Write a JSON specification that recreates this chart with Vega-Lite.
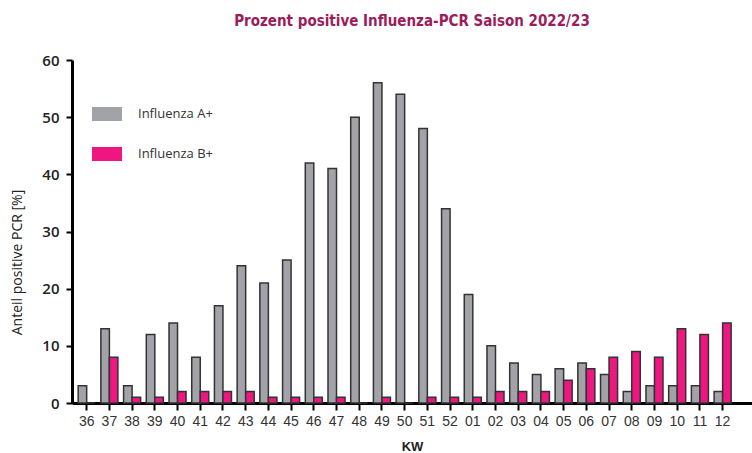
{
  "$schema": "https://vega.github.io/schema/vega-lite/v6.json",
  "autosize": {"type": "none"},
  "padding": {"left": 72, "top": 60, "right": 0, "bottom": 50},
  "width": 680,
  "height": 343,
  "background": "white",
  "title": {
    "text": "Prozent positive Influenza-PCR Saison 2022/23",
    "font": "Liberation Sans Narrow, DejaVu Sans Condensed, sans-serif",
    "fontSize": 15,
    "fontWeight": "bold",
    "color": "#9c1c5c",
    "anchor": "middle",
    "offset": 24
  },
  "data": {
    "values": [
      {"KW": "36", "Typ": "Influenza A+", "Anteil": 3},
      {"KW": "36", "Typ": "Influenza B+", "Anteil": 0},
      {"KW": "37", "Typ": "Influenza A+", "Anteil": 13},
      {"KW": "37", "Typ": "Influenza B+", "Anteil": 8},
      {"KW": "38", "Typ": "Influenza A+", "Anteil": 3},
      {"KW": "38", "Typ": "Influenza B+", "Anteil": 1},
      {"KW": "39", "Typ": "Influenza A+", "Anteil": 12},
      {"KW": "39", "Typ": "Influenza B+", "Anteil": 1},
      {"KW": "40", "Typ": "Influenza A+", "Anteil": 14},
      {"KW": "40", "Typ": "Influenza B+", "Anteil": 2},
      {"KW": "41", "Typ": "Influenza A+", "Anteil": 8},
      {"KW": "41", "Typ": "Influenza B+", "Anteil": 2},
      {"KW": "42", "Typ": "Influenza A+", "Anteil": 17},
      {"KW": "42", "Typ": "Influenza B+", "Anteil": 2},
      {"KW": "43", "Typ": "Influenza A+", "Anteil": 24},
      {"KW": "43", "Typ": "Influenza B+", "Anteil": 2},
      {"KW": "44", "Typ": "Influenza A+", "Anteil": 21},
      {"KW": "44", "Typ": "Influenza B+", "Anteil": 1},
      {"KW": "45", "Typ": "Influenza A+", "Anteil": 25},
      {"KW": "45", "Typ": "Influenza B+", "Anteil": 1},
      {"KW": "46", "Typ": "Influenza A+", "Anteil": 42},
      {"KW": "46", "Typ": "Influenza B+", "Anteil": 1},
      {"KW": "47", "Typ": "Influenza A+", "Anteil": 41},
      {"KW": "47", "Typ": "Influenza B+", "Anteil": 1},
      {"KW": "48", "Typ": "Influenza A+", "Anteil": 50},
      {"KW": "48", "Typ": "Influenza B+", "Anteil": 0},
      {"KW": "49", "Typ": "Influenza A+", "Anteil": 56},
      {"KW": "49", "Typ": "Influenza B+", "Anteil": 1},
      {"KW": "50", "Typ": "Influenza A+", "Anteil": 54},
      {"KW": "50", "Typ": "Influenza B+", "Anteil": 0},
      {"KW": "51", "Typ": "Influenza A+", "Anteil": 48},
      {"KW": "51", "Typ": "Influenza B+", "Anteil": 1},
      {"KW": "52", "Typ": "Influenza A+", "Anteil": 34},
      {"KW": "52", "Typ": "Influenza B+", "Anteil": 1},
      {"KW": "01", "Typ": "Influenza A+", "Anteil": 19},
      {"KW": "01", "Typ": "Influenza B+", "Anteil": 1},
      {"KW": "02", "Typ": "Influenza A+", "Anteil": 10},
      {"KW": "02", "Typ": "Influenza B+", "Anteil": 2},
      {"KW": "03", "Typ": "Influenza A+", "Anteil": 7},
      {"KW": "03", "Typ": "Influenza B+", "Anteil": 2},
      {"KW": "04", "Typ": "Influenza A+", "Anteil": 5},
      {"KW": "04", "Typ": "Influenza B+", "Anteil": 2},
      {"KW": "05", "Typ": "Influenza A+", "Anteil": 6},
      {"KW": "05", "Typ": "Influenza B+", "Anteil": 4},
      {"KW": "06", "Typ": "Influenza A+", "Anteil": 7},
      {"KW": "06", "Typ": "Influenza B+", "Anteil": 6},
      {"KW": "07", "Typ": "Influenza A+", "Anteil": 5},
      {"KW": "07", "Typ": "Influenza B+", "Anteil": 8},
      {"KW": "08", "Typ": "Influenza A+", "Anteil": 2},
      {"KW": "08", "Typ": "Influenza B+", "Anteil": 9},
      {"KW": "09", "Typ": "Influenza A+", "Anteil": 3},
      {"KW": "09", "Typ": "Influenza B+", "Anteil": 8},
      {"KW": "10", "Typ": "Influenza A+", "Anteil": 3},
      {"KW": "10", "Typ": "Influenza B+", "Anteil": 13},
      {"KW": "11", "Typ": "Influenza A+", "Anteil": 3},
      {"KW": "11", "Typ": "Influenza B+", "Anteil": 12},
      {"KW": "12", "Typ": "Influenza A+", "Anteil": 2},
      {"KW": "12", "Typ": "Influenza B+", "Anteil": 14}
    ]
  },
  "mark": {"type": "bar", "stroke": "#333333", "strokeWidth": 1.5},
  "encoding": {
    "x": {
      "field": "KW",
      "type": "nominal",
      "sort": null,
      "scale": {"paddingInner": 0.25, "paddingOuter": 0.595, "align": 0.228},
      "axis": {
        "title": "KW",
        "titleFont": "Liberation Sans",
        "titleFontSize": 13,
        "titleFontWeight": "bold",
        "titleColor": "#222222",
        "titlePadding": 12,
        "labelAngle": 0,
        "labelFont": "Liberation Sans",
        "labelFontSize": 14,
        "labelColor": "#333333",
        "labelPadding": 4,
        "domainColor": "black",
        "domainWidth": 3,
        "tickColor": "black",
        "tickWidth": 2,
        "tickSize": 7
      }
    },
    "xOffset": {"field": "Typ", "type": "nominal", "scale": {"paddingInner": 0, "paddingOuter": 0}},
    "y": {
      "field": "Anteil",
      "type": "quantitative",
      "scale": {"domain": [0, 60], "nice": false},
      "axis": {
        "title": "Anteil positive PCR [%]",
        "titleFont": "Open Sans",
        "titleFontSize": 14,
        "titleFontWeight": "normal",
        "titleColor": "#222222",
        "titleX": -48,
        "titleY": 202,
        "values": [0, 10, 20, 30, 40, 50, 60],
        "grid": false,
        "labelFont": "Open Sans",
        "labelFontSize": 15,
        "labelFontWeight": 600,
        "labelColor": "#222222",
        "labelPadding": 7,
        "domainColor": "black",
        "domainWidth": 3,
        "tickColor": "black",
        "tickWidth": 2,
        "tickSize": 6
      }
    },
    "color": {
      "field": "Typ",
      "type": "nominal",
      "scale": {"domain": ["Influenza A+", "Influenza B+"], "range": ["#a2a2a9", "#ef1681"]},
      "legend": {
        "title": null,
        "orient": "none",
        "legendX": 20,
        "legendY": 39,
        "symbolType": "M-1,-0.467H1V0.467H-1Z",
        "symbolSize": 900,
        "symbolStrokeWidth": 0,
        "labelFont": "Open Sans",
        "labelFontSize": 13,
        "labelColor": "#333333",
        "labelOffset": 16,
        "rowPadding": 17
      }
    }
  },
  "config": {"view": {"stroke": null}}
}
